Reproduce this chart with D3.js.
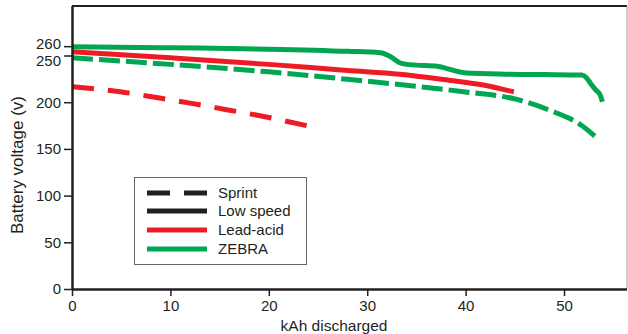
<!DOCTYPE html>
<html>
<head>
<meta charset="utf-8">
<script src="https://cdn.jsdelivr.net/npm/d3@7"></script>
<style>
  body { margin: 0; background: #fff; }
  text { font-family: "Liberation Sans", Arial, sans-serif; fill: #231f20; }
</style>
</head>
<body>
<div id="chart"></div>
<script>
// x ticks / y ticks
const xTicks = [0, 10, 20, 30, 40, 50];
const yTicks = [0, 50, 100, 150, 200, 250, 260];

// ZEBRA, low speed
const zebraLowX = [0, 10, 20, 28, 31.3, 32.3, 33.3, 34.0, 35.0, 37.1, 38.1, 39.4, 40.1, 44, 48, 51.8, 52.3, 52.7, 53.2, 53.7, 53.9];
const zebraLowV = [259.5, 258.3, 256.8, 254.5, 253, 249.3, 242.3, 240.5, 239.7, 238.6, 236, 232.4, 231.2, 230, 229.6, 229, 226, 220, 213.5, 207, 200.5];
// ZEBRA, sprint
const zebraSprintX = [0, 10, 20, 28, 35, 40, 45, 48.5, 51.8, 53.2];
const zebraSprintV = [247.5, 240.5, 232.5, 224.5, 217, 211, 203.5, 191.5, 175, 163];
// Lead-acid, low speed
const leadLowX = [0, 10, 20, 28, 33.3, 38.3, 41.8, 44.9];
const leadLowV = [254, 247.5, 240.5, 234, 230, 223.5, 218.4, 211];
// Lead-acid, sprint
const leadSprintX = [0, 4.9, 8.6, 12.3, 15.7, 19.1, 24];
const leadSprintV = [216.5, 211.2, 205, 198.5, 192, 185.5, 174.5];

const legendLabels = ["Sprint", "Low speed", "Lead-acid", "ZEBRA"];

const W = 628, H = 334;
const mLeft = 72, mRight = 627, mTop = 6, mBottom = 289;
const red = "#ed1c24", green = "#00a651", dark = "#231f20";

const svg = d3.select("#chart").append("svg")
  .attr("width", W).attr("height", H);

const x = d3.scaleLinear().domain([0, 56.4]).range([mLeft, mRight]);
const y = d3.scaleLinear().domain([0, 303]).range([mBottom, mTop]);

// frame: top and right
svg.append("line").attr("x1", mLeft).attr("x2", mRight).attr("y1", mTop).attr("y2", mTop)
  .attr("stroke", dark).attr("stroke-width", 2);
svg.append("line").attr("x1", mRight).attr("x2", mRight).attr("y1", mTop).attr("y2", mBottom)
  .attr("stroke", "#999").attr("stroke-width", 1);

// series
const line = d3.line().x(d => x(d[0])).y(d => y(d[1])).curve(d3.curveMonotoneX);
const series = [
  { xs: zebraLowX, vs: zebraLowV, color: green, dash: null },
  { xs: zebraSprintX, vs: zebraSprintV, color: green, dash: "21,6" },
  { xs: leadLowX, vs: leadLowV, color: red, dash: null },
  { xs: leadSprintX, vs: leadSprintV, color: red, dash: "22,14" }
];
series.forEach(s => {
  svg.append("path")
    .datum(d3.zip(s.xs, s.vs))
    .attr("d", line)
    .attr("fill", "none")
    .attr("stroke", s.color)
    .attr("stroke-width", 5)
    .attr("stroke-dasharray", s.dash);
});

// axes
const xAxis = svg.append("g")
  .attr("transform", "translate(0," + mBottom + ")")
  .call(d3.axisBottom(x).tickValues(xTicks).tickSize(7).tickPadding(4));
const yAxis = svg.append("g")
  .attr("transform", "translate(" + mLeft + ",0)")
  .call(d3.axisLeft(y).tickValues(yTicks).tickSize(8).tickPadding(3));
[xAxis, yAxis].forEach(g => {
  g.select(".domain").attr("stroke", dark).attr("stroke-width", 2.5);
  g.selectAll(".tick line").attr("stroke", dark).attr("stroke-width", 1.5);
  g.selectAll("text").style("font-size", "15px").style("font-family", "Liberation Sans, Arial, sans-serif").attr("fill", dark);
});
xAxis.select(".domain").attr("d", "M" + mLeft + ",0.5H" + mRight);
yAxis.select(".domain").attr("d", "M0.5," + mTop + "V" + mBottom);
// the 260 and 250 labels sit close together: nudge them apart
yAxis.selectAll(".tick text")
  .attr("dy", d => d === 260 ? "0.14em" : d === 250 ? "0.66em" : "0.32em");

// axis titles
svg.append("text")
  .attr("transform", "translate(23,165) rotate(-90)")
  .attr("text-anchor", "middle")
  .style("font-size", "17px")
  .text("Battery voltage (v)");
svg.append("text")
  .attr("x", 334).attr("y", 331)
  .attr("text-anchor", "middle")
  .style("font-size", "15.5px")
  .text("kAh discharged");

// legend
const lg = svg.append("g");
lg.append("rect").attr("x", 134.5).attr("y", 177.5).attr("width", 172).attr("height", 87)
  .attr("fill", "#fff").attr("stroke", "#666").attr("stroke-width", 1);
const legendStyles = [
  { color: dark, dash: "23,14" },
  { color: dark, dash: null },
  { color: red, dash: null },
  { color: green, dash: null }
];
const rowY = [193, 211, 230, 249];
legendLabels.forEach((lab, i) => {
  lg.append("line").attr("x1", 147).attr("x2", 207).attr("y1", rowY[i]).attr("y2", rowY[i])
    .attr("stroke", legendStyles[i].color).attr("stroke-width", 5)
    .attr("stroke-dasharray", legendStyles[i].dash);
  lg.append("text").attr("x", 218).attr("y", rowY[i] + 5)
    .style("font-size", "15px").text(lab);
});
</script>
</body>
</html>
